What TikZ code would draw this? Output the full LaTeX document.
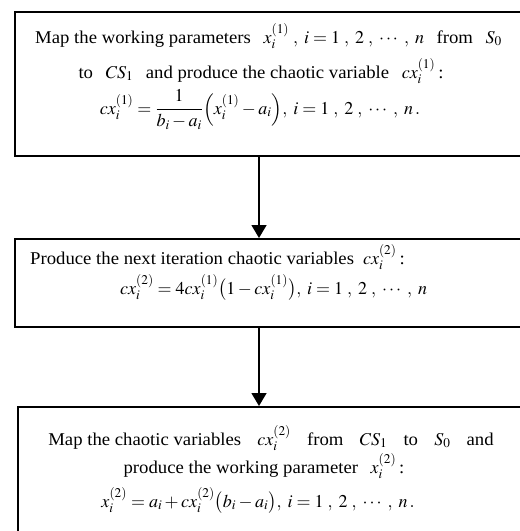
\documentclass[tikz,border=0pt]{standalone}
\usepackage{amsmath}
\usepackage{mathptmx}
\usepackage[no-math]{fontspec}
\setmainfont[FakeStretch=1.04]{Liberation Serif}
\usetikzlibrary{arrows.meta}
\newcommand\gp{\hspace{0.7em}}
\newcommand\up[1]{^{\raisebox{-2.5pt}{$\scriptstyle(#1)$}}}
\begin{document}
\begin{tikzpicture}[x=1pt,y=-1pt,
  box/.style={draw, line width=1.5pt, anchor=north west, inner sep=0pt, minimum height=#1},
  txt/.style={inner sep=0pt, font=\fontsize{18}{21}\selectfont},
  flow/.style={line width=1.5pt, -{Triangle[length=13pt,width=15pt]}}]
\useasboundingbox (0,0) rectangle (520,531);
\begin{scope}
\clip (0,0) rectangle (520,531);
\node[box=144pt, minimum width=530pt] (b1) at (14,11) {};
\node[box=88pt, minimum width=530pt] (b2) at (14,238) {};
\node[box=160pt, minimum width=530pt] (b3) at (17,406) {};
\end{scope}
\coordinate (ax) at (259,0);
% box 1 text
\node[txt, anchor=base] (t11) at (268.5,43) {Map the working parameters\gp$x_i\up{1}\;,\; i=1\;,\;2\;,\;\cdots\;,\;n$\gp from\gp$S_0$};
\node[txt, anchor=base] (t12) at (261,78) {to\gp$CS_1$\gp and produce the chaotic variable\gp$cx_i\up{1}$\,:};
\node[txt, anchor=base] (t13) at (260,114) {$cx_i\up{1}=\dfrac{1}{b_i-a_i}\Bigl(x_i\up{1}-a_i\Bigr),\; i=1\;,\;2\;,\;\cdots\;,\;n\,.$};
% box 2 text
\node[txt, anchor=base west] (t21) at (30,264) {Produce the next iteration chaotic variables\hspace{0.5em}$cx_i\up{2}$\,:};
\node[txt, anchor=base west] (t22) at (120,294) {$cx_i\up{2}=4cx_i\up{1}\bigl(1-cx_i\up{1}\bigr),\; i=1\;,\;2\;,\;\cdots\;,\;n$};
% box 3 text
\node[txt, anchor=base] (t31) at (271,445) {Map the chaotic variables\hspace{0.9em}$cx_i\up{2}$\hspace{0.9em}from\hspace{0.9em}$CS_1$\hspace{0.9em}to\hspace{0.9em}$S_0$\hspace{0.9em}and};
\node[txt, anchor=base] (t32) at (264,473) {produce the working parameter\gp$x_i\up{2}$\,:};
\node[txt, anchor=base] (t33) at (258,507) {$x_i\up{2}=a_i+cx_i\up{2}\bigl(b_i-a_i\bigr),\; i=1\;,\;2\;,\;\cdots\;,\;n\,.$};
% connectors
\draw[flow] (b1.south west -| ax) -- (b2.north west -| ax);
\draw[flow] (b2.south west -| ax) -- (b3.north west -| ax);
\end{tikzpicture}
\end{document}
